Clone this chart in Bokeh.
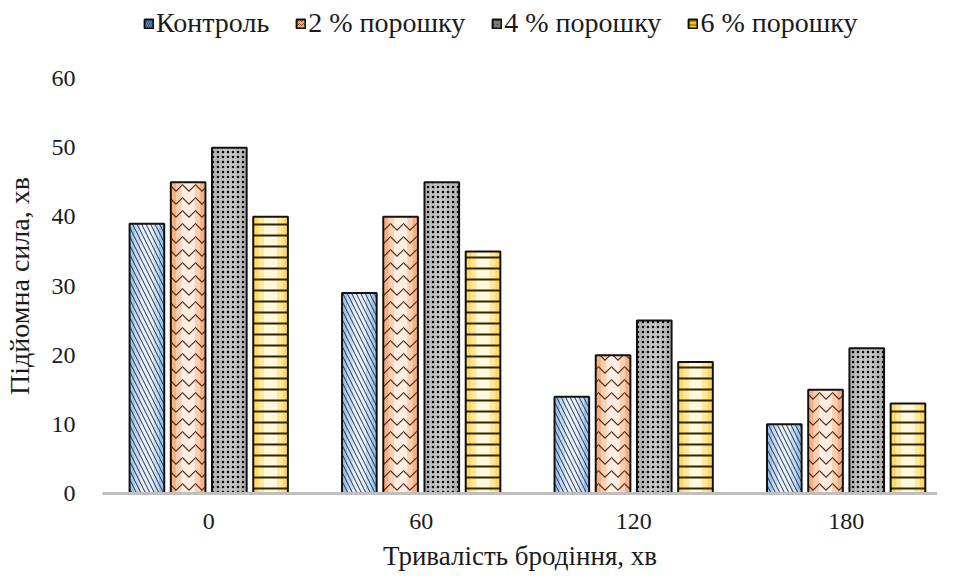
import numpy as np
from bokeh.plotting import figure
from bokeh.models import ColumnDataSource, Range1d, FixedTicker, Legend, LegendItem
from bokeh.layouts import column
from bokeh.transform import dodge
from bokeh.embed import file_html
from bokeh.resources import INLINE

categories = ["0", "60", "120", "180"]
series_names = ["Контроль", "2 % порошку", "4 % порошку", "6 % порошку"]
control = [39, 29, 14, 10]
powder2 = [45, 40, 20, 15]
powder4 = [50, 45, 25, 21]
powder6 = [40, 35, 19, 13]
y_ticks = [0, 10, 20, 30, 40, 50, 60]

FONT = "Liberation Serif"
TXT = "#1a1a1a"
BAR_W = 0.163

src = ColumnDataSource(dict(
    x=list(range(len(categories))),
    control=control, powder2=powder2, powder4=powder4, powder6=powder6,
))

p = figure(width=937, height=511, output_backend="svg", toolbar_location=None,
           x_range=Range1d(-0.5, 3.43), y_range=Range1d(0, 60),
           min_border_left=93, min_border_right=0, min_border_top=14,
           min_border_bottom=82)
p.outline_line_color = None
p.grid.visible = False

# field, offset, edge colour, mid colour, light colour, hatch, hatch colour, scale, weight, legend colour
styles = [
    ("control", -0.291, "#9fc4e8", "#c6dcf2", "#e9f2fb", "left_diagonal_line", "#1f2f4f", 9, 1.0, "#5b9bd5"),
    ("powder2", -0.097, "#f4b183", "#f9d0b4", "#fdeee4", "horizontal_wave", "#5a2a10", 13, 1.2, "#f4a46c"),
    ("powder4", 0.097, "#b4b4b4", "#bcbcbc", "#c4c4c4", "dot", "#000000", 5, 3, "#808080"),
    ("powder6", 0.291, "#ffd966", "#ffe89c", "#fff8dc", "horizontal_line", "#2e2600", 11, 2, "#f2c500"),
]
for field, off, c1, c2, c3, hatch, hcol, hscale, hw, lc in styles:
    p.vbar(x=dodge("x", off), top=field, width=BAR_W, bottom=0, source=src,
           fill_color=c1, line_color=None)
    p.vbar(x=dodge("x", off), top=field, width=BAR_W * 0.7, bottom=0, source=src,
           fill_color=c2, line_color=None)
    p.vbar(x=dodge("x", off), top=field, width=BAR_W * 0.38, bottom=0, source=src,
           fill_color=c3, line_color=None)
    p.vbar(x=dodge("x", off), top=field, width=BAR_W, bottom=0, source=src,
           fill_alpha=0, line_color="#111111", line_width=2,
           hatch_pattern=hatch, hatch_color=hcol, hatch_scale=hscale,
           hatch_weight=hw)

xa = p.xaxis[0]
xa.ticker = FixedTicker(ticks=list(range(len(categories))))
xa.major_label_overrides = {i: c for i, c in enumerate(categories)}
xa.axis_line_color = "#bfbfbf"
xa.axis_line_width = 3
xa.major_tick_line_color = None
xa.minor_tick_line_color = None
xa.major_label_text_font = FONT
xa.major_label_text_font_size = "24px"
xa.major_label_text_color = TXT
xa.major_label_standoff = 14
xa.axis_label = "Тривалість бродіння, хв"
xa.axis_label_text_font = FONT
xa.axis_label_text_font_size = "27px"
xa.axis_label_text_font_style = "normal"
xa.axis_label_text_color = TXT
xa.axis_label_standoff = 9

ya = p.yaxis[0]
ya.ticker = FixedTicker(ticks=y_ticks)
ya.axis_line_color = None
ya.major_tick_line_color = None
ya.minor_tick_line_color = None
ya.major_label_text_font = FONT
ya.major_label_text_font_size = "24px"
ya.major_label_text_color = TXT
ya.major_label_standoff = 21
ya.axis_label = "Підйомна сила, хв"
ya.axis_label_text_font = FONT
ya.axis_label_text_font_size = "28px"
ya.axis_label_text_font_style = "normal"
ya.axis_label_text_color = TXT
ya.axis_label_standoff = 14

# legend strip above the chart (its frame is aligned with the chart frame)
lf = figure(width=937, height=64, output_backend="svg", toolbar_location=None,
            x_range=Range1d(0, 1), y_range=Range1d(0, 1),
            x_axis_location=None, y_axis_location=None,
            min_border_left=0, min_border_right=0, min_border_top=0, min_border_bottom=0)
lf.outline_line_color = None
lf.grid.visible = False
# one non-finite row: the glyph draws nothing, but its legend swatch is drawn
dummy = ColumnDataSource(dict(x=np.array([np.nan]), top=np.array([np.nan])))
items = []
for name, (field, off, c1, c2, c3, hatch, hcol, hscale, hw, lc) in zip(series_names, styles):
    r = lf.vbar(x="x", top="top", bottom=0, width=0.01, source=dummy, fill_color=lc,
                line_color="#111111", line_width=2, hatch_pattern=hatch,
                hatch_color="#1a1a1a", hatch_scale=4, hatch_weight=1, hatch_alpha=0.6)
    items.append(LegendItem(label=name, renderers=[r]))
legend = Legend(items=items, orientation="horizontal", location=(41, 25),
                glyph_width=11, glyph_height=11, label_standoff=2, spacing=26,
                padding=0, margin=0, border_line_color=None, background_fill_alpha=0,
                label_text_font=FONT, label_text_font_size="28px", label_text_color=TXT)
lf.add_layout(legend, "center")

layout = column(lf, p, spacing=0)
open("out.html", "w").write(file_html(layout, INLINE))
